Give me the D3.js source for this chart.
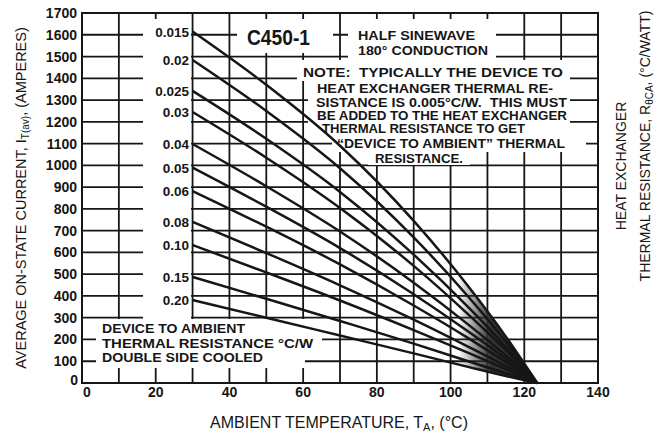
<!DOCTYPE html>
<html>
<head>
<meta charset="utf-8">
<script src="https://cdn.jsdelivr.net/npm/d3@7"></script>
<style>
body { margin: 0; background: #fff; }
text { font-family: "Liberation Sans", Arial, sans-serif; fill: #161616; white-space: pre; }
</style>
</head>
<body>
<svg id="chart" width="662" height="435"></svg>
<script>
// ambient temperatures where each curve was read (deg C)
var temps = [30, 50, 70, 90, 105, 115, 123.5];

// device to ambient thermal resistance, one curve each (deg C / W)
var resistLabels = ["0.015", "0.02", "0.025", "0.03", "0.04", "0.05", "0.06", "0.08", "0.10", "0.15", "0.20"];

// average on-state current (amperes) at each temp above
var cur015 = [1615, 1370, 1090, 745, 440, 213, 0];
var cur020 = [1484, 1250, 987, 669, 393, 190, 0];
var cur025 = [1342, 1122, 878, 590, 345, 166, 0];
var cur030 = [1245, 1035, 804, 538, 312, 151, 0];
var cur040 = [1098, 904, 696, 461, 266, 127, 0];
var cur050 = [990, 810, 620, 408, 234, 111, 0];
var cur060 = [882, 718, 545, 356, 204, 96, 0];
var cur080 = [740, 597, 449, 291, 165, 78, 0];
var cur100 = [634, 508, 379, 243, 137, 64, 0];
var cur150 = [487, 387, 285, 181, 99, 45, 0];
var cur200 = [381, 300, 218, 136, 73, 32, 0];

var xTicks = [0, 20, 40, 60, 80, 100, 120, 140];
var yTicks = [0, 100, 200, 300, 400, 500, 600, 700, 800, 900, 1000, 1100, 1200, 1300, 1400, 1500, 1600, 1700];

var noteLines = ["NOTE:  TYPICALLY THE DEVICE TO", "HEAT EXCHANGER THERMAL RE-", "SISTANCE IS 0.005\u00B0C/W.  THIS MUST",
                 "BE ADDED TO THE HEAT EXCHANGER", "THERMAL RESISTANCE TO GET", "\u201CDEVICE TO AMBIENT\u201D THERMAL", "RESISTANCE."];
var legendLines = ["DEVICE TO AMBIENT", "THERMAL RESISTANCE \u00B0C/W", "DOUBLE SIDE COOLED"];
var waveLines = ["HALF SINEWAVE", "180\u00B0 CONDUCTION"];

var allCurves = [cur015, cur020, cur025, cur030, cur040, cur050, cur060, cur080, cur100, cur150, cur200];

var svg = d3.select("#chart");
var ink = "#161616";

var x = d3.scaleLinear().domain([0, 140]).range([82, 598]);
var y = d3.scaleLinear().domain([0, 1700]).range([383, 13]);

// grid, every 10 deg and every 100 A
var grid = svg.append("g");
grid.selectAll(".vg").data(d3.range(10, 140, 10)).enter().append("line")
  .attr("x1", function(d) { return x(d); })
  .attr("x2", function(d) { return x(d); })
  .attr("y1", y(0)).attr("y2", y(1700))
  .attr("stroke", ink).attr("stroke-width", 1.8);
grid.selectAll(".hg").data(yTicks.slice(1, -1)).enter().append("line")
  .attr("x1", x(0)).attr("x2", x(140))
  .attr("y1", function(d) { return y(d); })
  .attr("y2", function(d) { return y(d); })
  .attr("stroke", ink).attr("stroke-width", 1.8);

// white patches where the lettering sits on the grid
var masks = [
  [143, 19, 191, 320],   // curve labels column
  [96, 319, 322, 352],   // device to ambient legend
  [96, 352, 305, 368],
  [237, 19, 333, 53],    // C450-1
  [348, 19, 496, 60],    // half sinewave
  [297, 60, 570, 81],    // note
  [308, 81, 570, 124],
  [316, 124, 572, 137],
  [332, 137, 586, 152],
  [368, 152, 470, 165]
];
svg.append("g").selectAll("rect").data(masks).enter().append("rect")
  .attr("x", function(d) { return d[0]; })
  .attr("y", function(d) { return d[1]; })
  .attr("width", function(d) { return d[2] - d[0]; })
  .attr("height", function(d) { return d[3] - d[1]; })
  .attr("fill", "#fff");

// dark fill where the curves bunch up near Tj
var defs = svg.append("defs");
var band = d3.area()
  .x(function(d, i) { return x(temps[i]); })
  .y0(function(d, i) { return y(cur200[i]); })
  .y1(function(d, i) { return y(cur015[i]); })
  .curve(d3.curveMonotoneX);
defs.append("clipPath").attr("id", "band").append("path").attr("d", band(temps));
var grad = defs.append("linearGradient").attr("id", "shade")
  .attr("gradientUnits", "userSpaceOnUse")
  .attr("x1", x(102)).attr("x2", x(111)).attr("y1", 0).attr("y2", 0);
grad.append("stop").attr("offset", 0).attr("stop-color", "#333").attr("stop-opacity", 0);
grad.append("stop").attr("offset", 1).attr("stop-color", "#333").attr("stop-opacity", 1);
svg.append("rect").attr("clip-path", "url(#band)")
  .attr("x", x(100)).attr("y", y(1700)).attr("width", x(126) - x(100)).attr("height", y(0) - y(1700))
  .attr("fill", "url(#shade)");

// frame
svg.append("rect")
  .attr("x", x(0)).attr("y", y(1700))
  .attr("width", x(140) - x(0)).attr("height", y(0) - y(1700))
  .attr("fill", "none").attr("stroke", ink).attr("stroke-width", 2);

// the curves
var line = d3.line()
  .x(function(d, i) { return x(temps[i]); })
  .y(function(d) { return y(d); })
  .curve(d3.curveMonotoneX);
svg.append("g").selectAll("path").data(allCurves).enter().append("path")
  .attr("d", line)
  .attr("fill", "none").attr("stroke", ink).attr("stroke-width", 2.5);

// curve labels
svg.append("g").selectAll("text").data(allCurves).enter().append("text")
  .attr("x", 189)
  .attr("y", function(d) { return y(d[0]) + 5; })
  .attr("text-anchor", "end")
  .attr("font-size", 13.5).attr("font-weight", "bold")
  .text(function(d, i) { return resistLabels[i]; });

// tick labels
svg.append("g").selectAll("text").data(yTicks).enter().append("text")
  .attr("x", function(d) { return d === 0 ? 78 : 77; })
  .attr("y", function(d) { return d === 0 ? y(d) + 2 : y(d) + 5; })
  .attr("text-anchor", "end")
  .attr("font-size", 14).attr("font-weight", "bold")
  .text(function(d) { return d; });
svg.append("g").selectAll("text").data(xTicks).enter().append("text")
  .attr("x", function(d) { return d === 0 ? x(d) + 5 : x(d); })
  .attr("y", 397)
  .attr("text-anchor", "middle")
  .attr("font-size", 14).attr("font-weight", "bold")
  .text(function(d) { return d; });

// lettering blocks: [x start, x end, baseline]
function letters(rows, pos, size) {
  svg.append("g").selectAll("text").data(rows).enter().append("text")
    .attr("x", function(d, i) { return pos[i][0]; })
    .attr("y", function(d, i) { return pos[i][2]; })
    .attr("textLength", function(d, i) { return pos[i][1] - pos[i][0]; })
    .attr("lengthAdjust", "spacingAndGlyphs")
    .attr("font-size", size).attr("font-weight", "bold")
    .text(function(d) { return d; });
}
letters(noteLines, [[303, 563, 77], [317, 553, 93], [316, 567, 107], [317, 567, 120],
                    [322, 525, 133], [337, 565, 148], [375, 463, 163]], 12.5);
letters(legendLines, [[102, 245, 333], [102, 313, 348], [102, 263, 362]], 12.5);
letters(waveLines, [[358, 475, 40], [358, 488, 55]], 12);
letters(["C450-1"], [[247, 310, 45]], 22);

// axis titles
var xt = svg.append("text").attr("x", 339).attr("y", 428)
  .attr("text-anchor", "middle").attr("font-size", 16);
xt.append("tspan").text("AMBIENT TEMPERATURE, T");
xt.append("tspan").attr("font-size", 11).attr("dy", 3).text("A");
xt.append("tspan").attr("dy", -3).text(", (\u00B0C)");

var yt = svg.append("text").attr("transform", "translate(26,198) rotate(-90)")
  .attr("text-anchor", "middle").attr("font-size", 14.5);
yt.append("tspan").text("AVERAGE ON-STATE CURRENT, I");
yt.append("tspan").attr("font-size", 10).attr("dy", 3).text("T(av)");
yt.append("tspan").attr("dy", -3).text(", (AMPERES)");

svg.append("text").attr("transform", "translate(626,166) rotate(-90)")
  .attr("text-anchor", "middle").attr("font-size", 14)
  .text("HEAT EXCHANGER");
var rt = svg.append("text").attr("transform", "translate(650,146) rotate(-90)")
  .attr("text-anchor", "middle").attr("font-size", 14);
rt.append("tspan").text("THERMAL RESISTANCE, R");
rt.append("tspan").attr("font-size", 10).attr("dy", 3).text("\u03B8CA");
rt.append("tspan").attr("dy", -3).text(", (\u00B0C/WATT)");
</script>
</body>
</html>
